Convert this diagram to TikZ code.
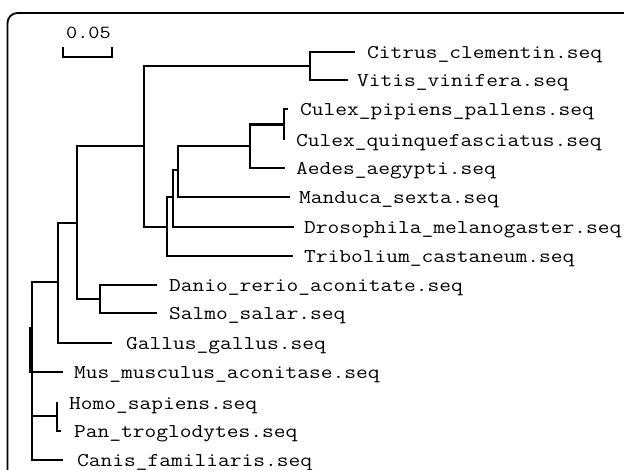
\documentclass[tikz,border=0pt]{standalone}
\usepackage{fontspec}
\usepackage{graphicx}
\newcommand\lbl[1]{\scalebox{1.17}[1]{#1}}
\begin{document}
\begin{tikzpicture}[x=1pt,y=-1pt,
  br/.style={line width=2.8pt, line join=miter},
  frame/.style={line width=1.8pt, rounded corners=10pt},
  lab/.style={anchor=base west, inner sep=0pt, font=\fontsize{19.5}{20}\selectfont\ttfamily},
  scl/.style={anchor=base west, inner sep=0pt, font=\fontsize{18.5}{19}\selectfont\ttfamily}]
\useasboundingbox (0,0) rectangle (624,470);
\fill[white] (0,0) rectangle (624,470);
% frame
\draw[frame] (7.5,471) -- (7.5,13) -- (625,13);
% scale bar
\coordinate (sbL) at (63,47);
\coordinate (sbR) at (112,47);
\draw[line width=2.6pt] (sbL) -- (63,57) -- (112,57) -- (sbR);
\node[scl] (sbt) at (66,39) {\lbl{0.05}};
% internal nodes
\coordinate (r) at (32,371);
\coordinate (n58) at (58,282);
\coordinate (n77) at (77,223);
\coordinate (n144) at (144,146);
\coordinate (n310) at (310,66);
\coordinate (n167) at (167,227);
\coordinate (n173) at (173,197);
\coordinate (n178) at (178,170);
\coordinate (n250) at (250,146);
\coordinate (n284) at (284,124.5);
\coordinate (n100) at (100,299);
\coordinate (n57) at (57,416);
% leaf ends
\coordinate (citE) at (355,52);
\coordinate (vitE) at (348,80);
\coordinate (cpE) at (288,109);
\coordinate (cqE) at (284,140);
\coordinate (aedE) at (285,168);
\coordinate (manE) at (290,197);
\coordinate (droE) at (294,227);
\coordinate (triE) at (293,256);
\coordinate (danE) at (157,285);
\coordinate (salE) at (157,313);
\coordinate (galE) at (112,343);
\coordinate (musE) at (63,372);
\coordinate (homE) at (57,402);
\coordinate (panE) at (61,431);
\coordinate (canE) at (63,460);
% branches
\draw[br] (r) |- (n58);
\draw[br] (r) |- (musE);
\draw[br] (r) |- (n57);
\draw[br] (r) |- (canE);
\draw[br] (30,327) -- (30,373);
\draw[br] (n58) |- (n77);
\draw[br] (n58) |- (galE);
\draw[br] (n77) |- (n144);
\draw[br] (n77) |- (n100);
\draw[br] (n144) |- (n310);
\draw[br] (n144) |- (n167);
\draw[br] (n310) |- (citE);
\draw[br] (n310) |- (vitE);
\draw[br] (n167) |- (n173);
\draw[br] (n167) |- (triE);
\draw[br] (n173) |- (n178);
\draw[br] (n173) |- (droE);
\draw[br] (n178) |- (n250);
\draw[br] (n178) |- (manE);
\draw[br] (n250) |- (n284);
\draw[br] (n250) |- (aedE);
\draw[br] (n284) |- (cpE);
\draw[br] (n284) |- (cqE);
\draw[br] (n100) |- (danE);
\draw[br] (n100) |- (salE);
\draw[br] (n57) |- (homE);
\draw[br] (n57) |- (panE);
% labels
\node[lab] (cit) at (367,58.5) {\lbl{Citrus\_clementin.seq}};
\node[lab] (vit) at (357,86.5) {\lbl{Vitis\_vinifera.seq}};
\node[lab] (cp) at (300,116) {\lbl{Culex\_pipiens\_pallens.seq}};
\node[lab] (cq) at (296,146.5) {\lbl{Culex\_quinquefasciatus.seq}};
\node[lab] (aed) at (296,174.5) {\lbl{Aedes\_aegypti.seq}};
\node[lab] (man) at (299,203.5) {\lbl{Manduca\_sexta.seq}};
\node[lab] (dro) at (304,233.5) {\lbl{Drosophila\_melanogaster.seq}};
\node[lab] (tri) at (304,262.5) {\lbl{Tribolium\_castaneum.seq}};
\node[lab] (dan) at (169,291.5) {\lbl{Danio\_rerio\_aconitate.seq}};
\node[lab] (sal) at (169,319.5) {\lbl{Salmo\_salar.seq}};
\node[lab] (gal) at (126,349.5) {\lbl{Gallus\_gallus.seq}};
\node[lab] (mus) at (74,378.5) {\lbl{Mus\_musculus\_aconitase.seq}};
\node[lab] (hom) at (69,409.5) {\lbl{Homo\_sapiens.seq}};
\node[lab] (pan) at (74,437.5) {\lbl{Pan\_troglodytes.seq}};
\node[lab] (can) at (77,466.5) {\lbl{Canis\_familiaris.seq}};
\end{tikzpicture}
\end{document}
